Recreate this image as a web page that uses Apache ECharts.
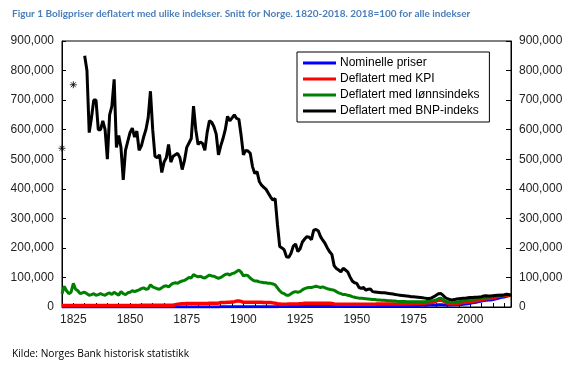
<!DOCTYPE html>
<html><head><meta charset="utf-8">
<script src="https://cdn.jsdelivr.net/npm/echarts@6/dist/echarts.min.js"></script>
<style>html,body{margin:0;padding:0;background:#fff}#c{width:573px;height:365px}</style>
</head><body><div id="c"></div>
<script>
const titleText = "Figur 1 Boligpriser deflatert med ulike indekser. Snitt for Norge. 1820-2018. 2018=100 for alle indekser";
const sourceText = "Kilde: Norges Bank historisk statistikk";
const seriesNames = ["Nominelle priser", "Deflatert med KPI", "Deflatert med lønnsindeks", "Deflatert med BNP-indeks"];
const xLabelYears = [1825, 1850, 1875, 1900, 1925, 1950, 1975, 2000];
const xTickYears = [1825,1830,1835,1840,1845,1850,1855,1860,1865,1870,1875,1880,1885,1890,1895,1900,1905,1910,1915,1920,1925,1930,1935,1940,1945,1950,1955,1960,1965,1970,1975,1980,1985,1990,1995,2000,2005,2010,2015];

// values in thousands, yearly from 1820
const nominalStart = 1820;
const nominal = [
 0.2,0.2,0.2,0.2,0.2,0.2,0.2,0.2,0.2,0.2,
 0.2,0.2,0.2,0.2,0.2,0.2,0.2,0.2,0.2,0.2,
 0.2,0.2,0.2,0.2,0.2,0.2,0.2,0.2,0.2,0.2,
 0.2,0.2,0.2,0.2,0.2,0.2,0.2,0.2,0.2,0.2,
 0.2,0.2,0.2,0.2,0.2,0.2,0.2,0.2,0.2,0.2,
 0.3,0.3,0.3,0.3,0.3,0.3,0.3,0.3,0.3,0.3,
 0.4,0.4,0.4,0.4,0.4,0.4,0.4,0.4,0.4,0.4,
 0.6,0.6,0.6,0.6,0.6,0.6,0.6,0.7,0.7,0.7,
 0.7,0.7,0.7,0.7,0.7,0.7,0.7,0.7,0.7,0.7,
 0.8,0.8,0.8,0.8,0.9,1.2,1.4,1.5,1.5,1.6,
 1.6,1.5,1.5,1.5,1.5,1.5,1.5,1.4,1.4,1.4,
 1.3,1.3,1.3,1.3,1.3,1.3,1.3,1.3,1.3,1.4,
 1.6,1.8,2.0,2.1,2.2,2.3,2.4,2.5,2.5,2.5,
 2.5,2.6,2.6,2.7,2.7,2.8,2.8,2.9,2.9,3.0,
 3.0,3.1,3.2,3.3,3.4,3.5,3.6,3.7,3.8,3.9,
 4.0,4.2,4.4,4.6,4.8,5.0,5.2,5.4,5.6,5.8,
 6.0,6.2,6.4,6.6,6.8,7.0,7.3,7.5,7.2,7.0,
 7.0,7.0,7.0,7.2,7.5,8.0,8.5,9.0,10.0,11.0,
 12.5,14.0,15.5,17.0,18.5,20.0,21.5,23.0,23.5,23.5,
 25.0,27.0,29.0,31.0,32.5,34.0,36.0,38.0,40.0
];
const kpi = [
 5,5,5,5,5,5,5,5,5,5,
 5,5,5,5,5,5,5,5,5,5,
 5,5,5,5,5,5,5,5,5,5,
 5,5,5,5,5,6,6,6,6,6,
 6,6,6,6,6,6,6,6,6,6,
 8,9,10,11,11,12,12,12,12,12,
 12,12,12,12,12,13,13,13,13,13,
 15,15,15,16,16,17,18,20,20,19,
 16,16,16,16,16,16,16,16,16,15,
 15,15,15,14,13,11,10,9,9,9,
 10,10,10,10,10,11,11,13,13,13,
 13,13,13,13,13,13,13,13,13,12,
 10,9,9,9,9,9,9,9,9,9,
 9,9,9,9,9,9,9,9,9,10,
 10,10,10,10,10,10,10,10,10,10,
 10,10,11,11,11,12,12,12,13,13,
 13,14,14,15,17,20,23,24,21,17,
 13,11,10,11,12,13,14,15,16,17,
 18,19,20,21,22,24,26,28,29,29,
 31,33,35,36,37,38,39,40,40
];
const wage = [
 45,70,55,45,50,80,60,55,45,48,
 50,45,40,42,45,40,42,45,42,40,
 45,48,42,50,45,40,52,45,42,48,
 50,55,52,55,58,62,65,60,62,75,
 68,65,62,60,65,70,72,68,75,80,
 82,80,85,88,90,95,100,98,110,105,
 102,104,100,98,103,108,105,104,100,97,
 100,105,110,112,108,113,115,120,125,118,
 105,108,106,98,92,88,88,85,84,82,
 82,80,80,78,75,65,55,48,45,40,
 40,45,50,52,50,52,58,62,65,66,
 66,68,70,68,66,68,65,62,60,58,
 57,52,48,45,42,42,40,38,35,33,
 31,30,30,29,28,27,26,25,25,24,
 24,23,23,22,21,21,20,20,19,19,
 19,19,18,18,18,18,18,18,18,18,
 18,19,20,21,22,24,28,30,26,20,
 17,15,14,15,17,18,20,21,22,24,
 25,26,27,27,29,31,33,34,33,34,
 36,38,39,40,40,41,42,41,40
];
const gdpStart = 1830;
const gdp = [
 850,800,590,640,700,700,600,600,630,600,
 500,650,680,770,540,580,540,430,530,560,
 590,605,575,595,530,545,575,600,640,730,
 600,510,505,515,455,490,505,550,490,510,
 515,520,505,465,495,540,555,570,680,600,
 550,558,553,530,590,630,625,610,585,515,
 545,570,600,645,630,640,650,638,635,580,
 515,530,528,520,475,452,458,425,412,405,
 398,385,372,362,367,280,205,200,193,170,
 168,182,206,213,188,197,220,230,238,236,
 228,260,262,258,238,226,215,200,187,178,
 140,130,125,119,131,125,119,102,88,82,
 80,66,63,66,57,60,61,52,51,50,
 49,48,48,47,46,45,44,42,41,40,
 39,38,37,36,35,35,34,33,32,31,
 30,29,29,31,35,40,45,46,40,32,
 28,25,24,25,27,28,29,30,30,31,
 32,32,33,33,34,35,37,38,37,37,
 38,39,40,40,40,41,43,42,40
];
const gdpIsolatedYears = [1820, 1825];
const gdpIsolated = [537, 752];

function pairs(start, arr) { return arr.map((v, i) => [start + i, v * 1000]); }
const fmt = v => v.toLocaleString('en-US');
const axisFont = { fontFamily: 'Liberation Sans, Arial, sans-serif', fontSize: 12, color: '#222' };

const chart = echarts.init(document.getElementById('c'), null, { renderer: 'canvas' });
const lineBase = { type: 'line', showSymbol: false, symbol: 'none', animation: false, clip: true };
chart.setOption({
  animation: false,
  title: [
    { text: titleText, left: 7, top: 4, textStyle: { fontFamily: 'Lato, sans-serif', fontWeight: 'bold', fontSize: 10, color: '#4a7ebb' } },
    { text: sourceText, left: 7, top: 344, textStyle: { fontFamily: 'Open Sans, sans-serif', fontWeight: 'normal', fontSize: 10.2, color: '#000' } }
  ],
  grid: { left: 62, right: 62, top: 41, bottom: 58, show: true, borderColor: '#000', borderWidth: 1, backgroundColor: 'transparent' },
  legend: {
    orient: 'vertical', left: 297, top: 52,
    data: seriesNames.map(n => ({ name: n, icon: 'rect' })),
    itemWidth: 33, itemHeight: 3, itemGap: 2,
    padding: [4, 10, 4, 6],
    borderColor: '#000', borderWidth: 1, backgroundColor: '#fff',
    textStyle: { fontFamily: 'Liberation Sans, Arial, sans-serif', fontSize: 12, color: '#000', lineHeight: 14, padding: [0, 0, 0, -1] }
  },
  xAxis: {
    type: 'value', min: 1820, max: 2018,
    axisLine: { show: true, lineStyle: { color: '#000', width: 1 } },
    axisTick: { show: true, inside: true, length: 4, customValues: xTickYears, lineStyle: { color: '#000' } },
    axisLabel: { customValues: xLabelYears, formatter: v => String(v), margin: 7, ...axisFont },
    splitLine: { show: false }
  },
  yAxis: [
    { type: 'value', min: 0, max: 900000, interval: 100000, position: 'left',
      axisLine: { show: true, lineStyle: { color: '#000' } },
      axisTick: { show: true, inside: true, length: 4, lineStyle: { color: '#000' } },
      axisLabel: { formatter: fmt, margin: 8, ...axisFont },
      splitLine: { show: false } },
    { type: 'value', min: 0, max: 900000, interval: 100000, position: 'right',
      axisLine: { show: true, lineStyle: { color: '#000' } },
      axisTick: { show: true, inside: true, length: 5, lineStyle: { color: '#000' } },
      axisLabel: { formatter: fmt, margin: 8, ...axisFont },
      splitLine: { show: false } }
  ],
  series: [
    { ...lineBase, name: seriesNames[0], data: pairs(nominalStart, nominal), color: '#0000ff', lineStyle: { width: 3, color: '#0000ff' } },
    { ...lineBase, name: seriesNames[1], data: pairs(nominalStart, kpi), color: '#ff0000', lineStyle: { width: 3.5, color: '#ff0000' } },
    { ...lineBase, name: seriesNames[2], data: pairs(nominalStart, wage), color: '#008000', lineStyle: { width: 3, color: '#008000' } },
    { ...lineBase, name: seriesNames[3], data: pairs(gdpStart, gdp), color: '#000000', lineStyle: { width: 3, color: '#000000' } },
    { type: 'scatter', name: 'stars', data: gdpIsolatedYears.map((y, i) => [y, gdpIsolated[i] * 1000]),
      symbol: 'path://M5 0L5 10M0 5L10 5M1.5 1.5L8.5 8.5M8.5 1.5L1.5 8.5', symbolSize: 7, clip: true,
      itemStyle: { color: 'none', borderColor: '#000', borderWidth: 1 }, silent: true }
  ]
});
</script></body></html>
